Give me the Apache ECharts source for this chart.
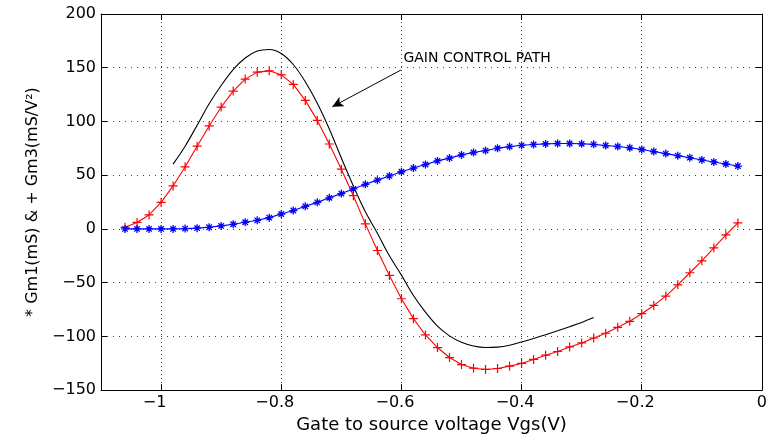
<!DOCTYPE html>
<html><head><meta charset="utf-8">
<script src="https://cdn.jsdelivr.net/npm/echarts@6/dist/echarts.min.js"></script>
<style>html,body{margin:0;padding:0;background:#fff}#c{width:770px;height:439px}</style>
</head><body><div id="c"></div>
<script>
// Gate-source voltage (V) sample points
const vgs = [-1.06,-1.04,-1.02,-1.00,-0.98,-0.96,-0.94,-0.92,-0.90,-0.88,-0.86,-0.84,-0.82,-0.80,
  -0.78,-0.76,-0.74,-0.72,-0.70,-0.68,-0.66,-0.64,-0.62,-0.60,-0.58,-0.56,-0.54,-0.52,-0.50,-0.48,
  -0.46,-0.44,-0.42,-0.40,-0.38,-0.36,-0.34,-0.32,-0.30,-0.28,-0.26,-0.24,-0.22,-0.20,-0.18,-0.16,
  -0.14,-0.12,-0.10,-0.08,-0.06,-0.04];
// * Gm1 (mS), blue
const gm1 = [0,0,0,0,0,0.3,0.7,1.5,2.8,4.3,6.2,8,10.5,13.9,
  17.1,21,24.7,28.9,32.9,37.2,41.5,45.4,49.3,53.2,56.6,59.9,63.3,65.9,68.9,71.1,
  72.9,75.1,76.6,77.8,78.6,79.1,79.5,79.5,79.2,78.7,77.6,76.7,75.5,73.9,72,70.1,
  68.2,66.3,64.2,62.3,60.4,58.5];
// + Gm3 (mS/V^2), red
const gm3 = [1.5,6,13,24.7,40,57.8,77,95.8,113.4,128.3,139.4,145.9,147.1,143.4,
  134.5,119.6,101,79,55.6,30.9,4.7,-20.1,-43.3,-65,-83.5,-98.7,-110.4,-119.7,-126.2,-129.6,
  -130.8,-129.9,-127.7,-125.2,-121.5,-117.5,-114.1,-109.8,-106.1,-101.5,-97.1,-91.6,-86,-78.9,-71.2,-62.5,
  -52,-40.8,-29.7,-17.6,-5.6,5.6];
// gain control path (black solid line), Vgs from -0.98 to -0.28
const pathVgs = vgs.slice(4, 40);
const pathGain = [60.3,77,96.5,116.5,133.5,148.3,159,165.5,167,163.3,
  153,137,117,93,66,40,16,-4,-25,-43,
  -62,-77.5,-90.5,-99.5,-105.5,-109,-110.4,-110,-108.2,-105.2,
  -101.9,-98.4,-94.8,-91,-87,-82.5];
const annotationText = 'GAIN CONTROL PATH';
const xName = 'Gate to source voltage Vgs(V)';
const yName = '* Gm1(mS) & + Gm3(mS/V\u00B2)';

const FONT = 'DejaVu Sans';
const plusPath = 'path://M0,5L10,5M5,0L5,10';
const starPath = 'path://M0,5L10,5M5,0L5,10M1.6,1.6L8.4,8.4M1.6,8.4L8.4,1.6';

function fmtX(v) {
  if (Math.abs(v) < 1e-9) return '{z|0}';
  return '{n|\u2212' + String(+(-v).toFixed(2)) + '}';
}
function fmtY(v) {
  return v < 0 ? '\u2212' + String(-v) : String(v);
}

const chart = echarts.init(document.getElementById('c'), null, {renderer: 'canvas'});
const tickStyle = {show: true, inside: true, length: 6, lineStyle: {color: '#000', width: 1}};
const lineAx = {show: true, onZero: false, lineStyle: {color: '#000', width: 1}};
chart.setOption({
  animation: false,
  backgroundColor: '#fff',
  grid: {left: 101, right: 7, top: 14, bottom: 48, containLabel: false},
  xAxis: [{
    type: 'value', min: -1.1, max: 0, splitNumber: 6, position: 'bottom',
    axisLine: lineAx, axisTick: tickStyle,
    axisLabel: {show: true, showMinLabel: false, margin: 5, formatter: fmtX,
      rich: {
        n: {fontFamily: FONT, fontSize: 16, color: '#000', padding: [0, 13, 0, 0]},
        z: {fontFamily: FONT, fontSize: 16, color: '#000'}
      }},
    splitLine: {show: true, lineStyle: {color: '#444', width: 1, type: [1, 3]}},
    name: xName, nameLocation: 'middle', nameGap: 21,
    nameTextStyle: {fontFamily: FONT, fontSize: 18, color: '#000'}
  }, {
    type: 'value', min: -1.1, max: 0, splitNumber: 6, position: 'top',
    axisLine: lineAx, axisTick: tickStyle, axisLabel: {show: false}, splitLine: {show: false}
  }],
  yAxis: [{
    type: 'value', min: -150, max: 200, interval: 50, position: 'left',
    axisLine: lineAx, axisTick: tickStyle,
    axisLabel: {show: true, margin: 5, formatter: fmtY, fontFamily: FONT, fontSize: 16, color: '#000'},
    splitLine: {show: true, lineStyle: {color: '#444', width: 1, type: [1, 5]}},
    name: yName, nameLocation: 'middle', nameGap: 58, nameRotate: 90,
    nameTextStyle: {fontFamily: FONT, fontSize: 16, color: '#000'}
  }, {
    type: 'value', min: -150, max: 200, interval: 50, position: 'right',
    axisLine: lineAx, axisTick: tickStyle, axisLabel: {show: false}, splitLine: {show: false}
  }],
  series: [{
    name: 'Gm3', type: 'line', xAxisIndex: 0, yAxisIndex: 0,
    data: vgs.map((x, i) => [x, gm3[i]]),
    showAllSymbol: true, symbol: plusPath, symbolSize: 9,
    itemStyle: {color: '#ff0000', borderColor: '#ff0000', borderWidth: 1.2},
    lineStyle: {color: '#ff0000', width: 1.1}, silent: true
  }, {
    name: 'Gm1', type: 'line', xAxisIndex: 0, yAxisIndex: 0,
    data: vgs.map((x, i) => [x, gm1[i]]),
    showAllSymbol: true, symbol: starPath, symbolSize: 8,
    itemStyle: {color: '#0000ff', borderColor: '#0000ff', borderWidth: 1.3},
    lineStyle: {color: '#0000ff', width: 1.1}, silent: true
  }, {
    name: 'path', type: 'line', xAxisIndex: 0, yAxisIndex: 0,
    data: pathVgs.map((x, i) => [x, pathGain[i]]),
    smooth: 0.35,
    symbol: 'none', lineStyle: {color: '#000', width: 1.1}, silent: true,
    markLine: {
      silent: true, symbol: ['none', 'arrow'], symbolSize: [8, 11],
      lineStyle: {color: '#000', width: 1, type: 'solid'},
      label: {show: false},
      data: [[{coord: [-0.601, 147.8]}, {coord: [-0.715, 113.7]}]]
    },
    markPoint: {
      silent: true, symbol: 'circle', symbolSize: 1,
      itemStyle: {color: 'rgba(0,0,0,0)'},
      label: {show: true, position: 'right', distance: 0, formatter: annotationText,
        fontFamily: FONT, fontSize: 14, color: '#000'},
      data: [{coord: [-0.5975, 158.9]}]
    }
  }]
});
</script>
</body></html>
